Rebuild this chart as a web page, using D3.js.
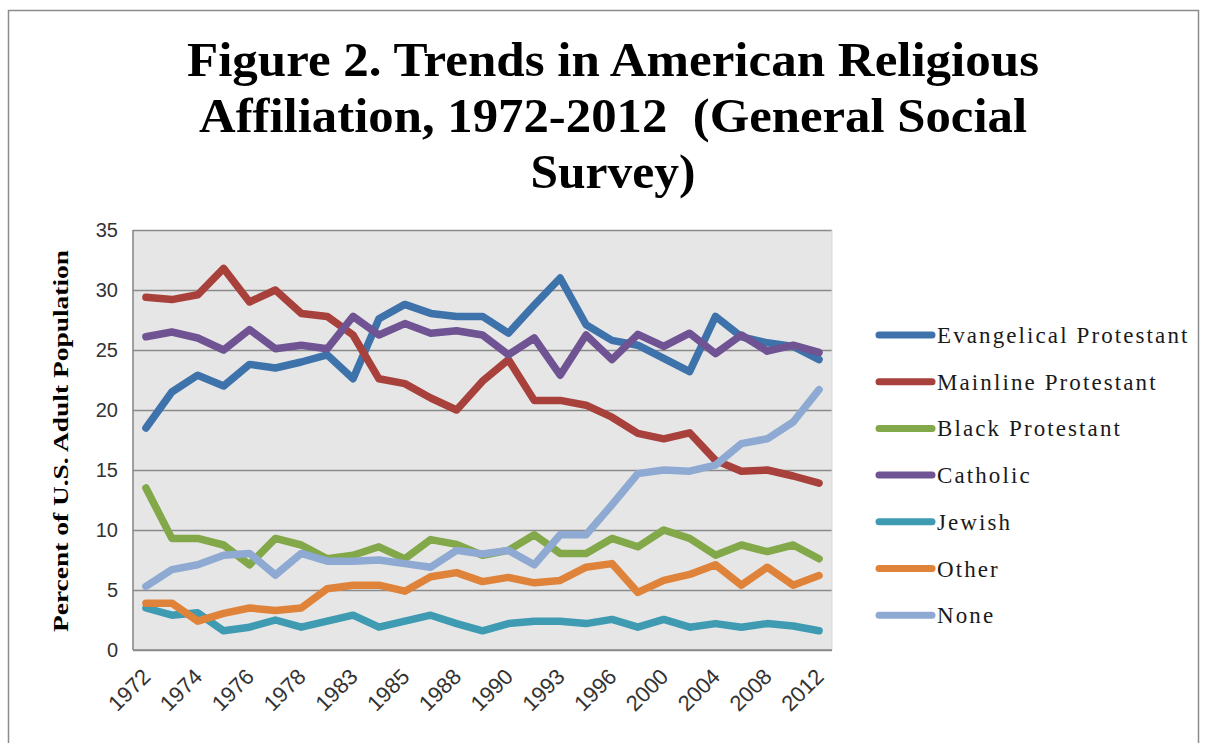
<!DOCTYPE html>
<html>
<head>
<meta charset="utf-8">
<script src="https://cdn.jsdelivr.net/npm/d3@7"></script>
<style>
  body { margin: 0; background: #fff; }
  svg { display: block; }
</style>
</head>
<body>
<svg class="chart" width="1210" height="743"></svg>
<script>
  // GSS survey years (categories)
  var years = ["1972", "1973", "1974", "1975", "1976", "1977", "1978", "1980", "1983", "1984", "1985", "1986", "1988",
    "1989", "1990", "1991", "1993", "1994", "1996", "1998", "2000", "2002", "2004", "2006", "2008", "2010", "2012"]
  var yTicks = [0, 5, 10, 15, 20, 25, 30, 35]

  var evangelical = [18.5, 21.5, 22.9, 22.0, 23.8, 23.5, 24.0, 24.6, 22.6, 27.6, 28.8, 28.05, 27.8, 27.8, 26.4, 28.75, 31.0, 27.1, 25.8, 25.4, 24.3, 23.2, 27.8, 26.1, 25.6, 25.3, 24.2]
  var mainline = [29.4, 29.2, 29.6, 31.8, 29.0, 30.0, 28.05, 27.8, 26.25, 22.6, 22.2, 21.0, 20.0, 22.4, 24.2, 20.8, 20.8, 20.4, 19.4, 18.05, 17.6, 18.1, 15.8, 14.9, 15.0, 14.5, 13.9]
  var blackProt = [13.5, 9.3, 9.3, 8.75, 7.1, 9.3, 8.75, 7.6, 7.9, 8.6, 7.6, 9.2, 8.8, 7.9, 8.3, 9.6, 8.05, 8.05, 9.3, 8.6, 10.0, 9.3, 7.9, 8.75, 8.2, 8.75, 7.6]
  var catholic = [26.1, 26.5, 26.0, 25.0, 26.7, 25.1, 25.4, 25.1, 27.8, 26.25, 27.2, 26.4, 26.6, 26.25, 24.6, 26.0, 22.9, 26.25, 24.2, 26.3, 25.3, 26.4, 24.7, 26.25, 24.9, 25.4, 24.8]
  var jewish = [3.5, 2.9, 3.1, 1.6, 1.9, 2.5, 1.9, 2.4, 2.9, 1.9, 2.4, 2.9, 2.2, 1.6, 2.2, 2.4, 2.4, 2.2, 2.55, 1.9, 2.55, 1.9, 2.2, 1.9, 2.2, 2.0, 1.6]
  var other = [3.9, 3.9, 2.4, 3.05, 3.5, 3.3, 3.5, 5.1, 5.4, 5.4, 4.9, 6.1, 6.45, 5.7, 6.05, 5.6, 5.8, 6.9, 7.2, 4.8, 5.8, 6.3, 7.1, 5.4, 6.9, 5.4, 6.2]
  var none = [5.3, 6.7, 7.1, 7.9, 8.05, 6.25, 8.05, 7.4, 7.4, 7.5, 7.2, 6.9, 8.3, 8.0, 8.3, 7.1, 9.6, 9.6, 12.1, 14.7, 15.0, 14.9, 15.4, 17.2, 17.6, 19.0, 21.7]

  var seriesNames = ["Evangelical Protestant", "Mainline Protestant", "Black Protestant", "Catholic", "Jewish", "Other", "None"]
  var seriesColors = ["#3e72ab", "#a8403c", "#82a84a", "#6f5392", "#3f9bb2", "#e0833a", "#8eaad2"]
  var titleLines = ["Figure 2. Trends in American Religious", "Affiliation, 1972-2012  (General Social", "Survey)"]

  var series = [evangelical, mainline, blackProt, catholic, jewish, other, none].map((vals, i) => ({
    name: seriesNames[i], color: seriesColors[i], values: vals
  }))

  var margin = { top: 230, right: 378, bottom: 93, left: 133 }
  var width = 1210, height = 743
  var chart_width = width - margin.left - margin.right
  var chart_height = height - margin.top - margin.bottom

  const svg = d3.select("svg.chart")

  // outer chart frame
  svg.append("rect")
    .attr("x", 8.5).attr("y", 10.5)
    .attr("width", 1190).attr("height", 745)
    .attr("fill", "#fff").attr("stroke", "#8c8c8c").attr("stroke-width", 1.5)

  // title
  var titleWidths = [852, 828, 165]
  titleLines.forEach((t, i) => {
    svg.append("text")
      .attr("x", 613)
      .attr("y", 76 + i * 56)
      .attr("text-anchor", "middle")
      .attr("font-family", "Liberation Serif, serif")
      .attr("font-weight", "bold")
      .attr("font-size", 48)
      .attr("textLength", titleWidths[i])
      .attr("lengthAdjust", "spacingAndGlyphs")
      .attr("fill", "#000")
      .style("white-space", "pre")
      .text(t)
  })

  const xScale = d3.scaleBand().domain(years).range([0, chart_width])
  const yScale = d3.scaleLinear().domain([0, 35]).range([chart_height, 0])
  const xPos = d => xScale(d) + xScale.bandwidth() / 2

  const plot = svg.append("g")
    .attr("transform", "translate(" + margin.left + "," + margin.top + ")")

  plot.append("rect")
    .attr("width", chart_width).attr("height", chart_height)
    .attr("fill", "#e6e6e6")

  let leftGridlines = d3.axisLeft(yScale).tickValues(yTicks).tickFormat("").tickSize(-chart_width)
  plot.append("g")
    .attr("class", "y gridlines")
    .call(leftGridlines)
    .call(g => g.select(".domain").remove())
    .selectAll("line").attr("stroke", "#8a8a8a").attr("stroke-width", 1.6)

  // right side of plot area
  plot.append("line")
    .attr("x1", chart_width).attr("x2", chart_width)
    .attr("y1", 0).attr("y2", chart_height)
    .attr("stroke", "#d9d9d9").attr("stroke-width", 1)

  // axis lines
  plot.append("line")
    .attr("x1", 0).attr("x2", 0).attr("y1", 0).attr("y2", chart_height)
    .attr("stroke", "#8a8a8a").attr("stroke-width", 1.6)
  plot.append("line")
    .attr("x1", 0).attr("x2", chart_width).attr("y1", chart_height).attr("y2", chart_height)
    .attr("stroke", "#8a8a8a").attr("stroke-width", 1.6)

  let leftAxis = d3.axisLeft(yScale).tickValues(yTicks).tickSize(0).tickPadding(15)
  plot.append("g")
    .attr("class", "y axis")
    .call(leftAxis)
    .call(g => g.select(".domain").remove())
    .selectAll("text")
    .attr("font-family", "Liberation Sans, Arial, sans-serif")
    .attr("font-size", 20)
    .attr("fill", "#333")

  let bottomAxis = d3.axisBottom(xScale).tickValues(years.filter((d, i) => i % 2 == 0)).tickSize(0)
  plot.append("g")
    .attr("class", "x axis")
    .attr("transform", "translate(0," + chart_height + ")")
    .call(bottomAxis)
    .call(g => g.select(".domain").remove())
    .selectAll("text")
    .attr("font-family", "Liberation Sans, Arial, sans-serif")
    .attr("font-size", 22)
    .attr("fill", "#333")
    .attr("text-anchor", "end")
    .attr("dy", 0)
    .attr("y", 0)
    .attr("transform", "translate(6,28) rotate(-45)")

  // y axis title
  svg.append("text")
    .attr("transform", "translate(68,441) rotate(-90)")
    .attr("text-anchor", "middle")
    .attr("font-family", "Liberation Serif, serif")
    .attr("font-weight", "bold")
    .attr("font-size", 21)
    .attr("textLength", 382)
    .attr("lengthAdjust", "spacingAndGlyphs")
    .text("Percent of U.S. Adult Population")

  const line = d3.line()
    .x((d, i) => xPos(years[i]))
    .y(d => yScale(d))

  series.forEach(s => {
    plot.append("path")
      .datum(s.values)
      .attr("d", line)
      .attr("fill", "none")
      .attr("stroke", s.color)
      .attr("stroke-width", 7.5)
      .attr("stroke-linejoin", "round")
      .attr("stroke-linecap", "round")
  })

  // legend
  var legend_y = 335
  series.forEach(s => {
    svg.append("line")
      .attr("x1", 879).attr("x2", 932)
      .attr("y1", legend_y).attr("y2", legend_y)
      .attr("stroke", s.color)
      .attr("stroke-width", 7)
      .attr("stroke-linecap", "round")
    svg.append("text")
      .attr("x", 937)
      .attr("y", legend_y + 8)
      .attr("font-family", "Liberation Serif, serif")
      .attr("font-size", 23)
      .attr("letter-spacing", 2.1)
      .attr("fill", "#1a1a1a")
      .text(s.name)
    legend_y = legend_y + 46.7
  })
</script>
</body>
</html>
